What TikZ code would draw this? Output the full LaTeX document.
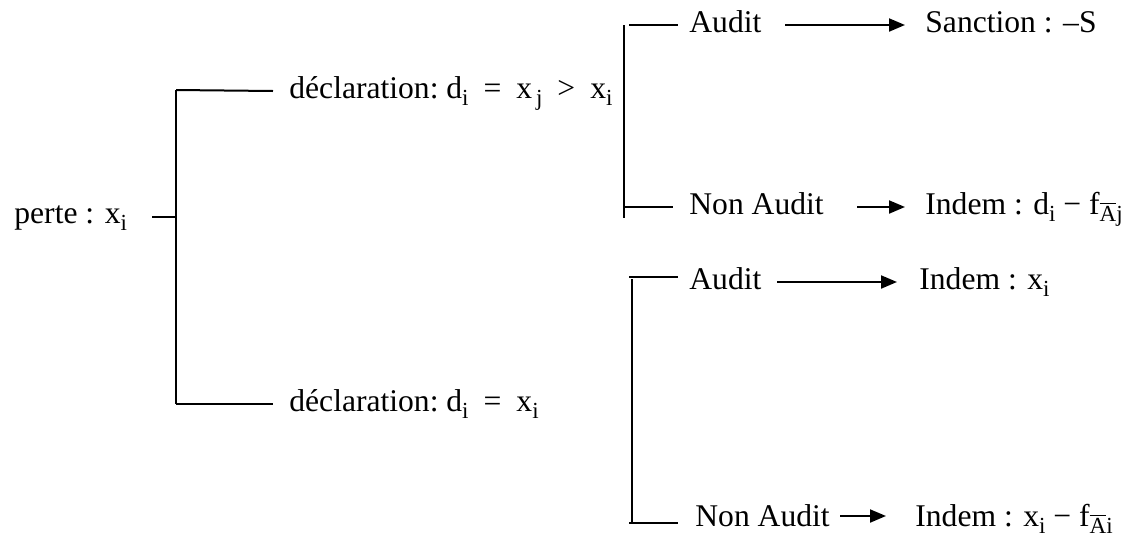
\documentclass[tikz,border=0pt]{standalone}
\usepackage{fontspec}
\setmainfont{Liberation Serif}
\usetikzlibrary{arrows.meta}
\newcommand{\gp}{\hspace{7.5pt}}
\newcommand{\sbs}[1]{\raisebox{-3.6pt}{\fontsize{11.5}{12}\selectfont #1}}
\newcommand{\ovl}[1]{$\overline{\hbox{#1}}$}
\begin{document}
\begin{tikzpicture}[x=0.5pt,y=-0.5pt,
  lbl/.style={anchor=base west,inner sep=0pt,font=\fontsize{15.8}{18}\selectfont},
  ln/.style={line width=1pt},
  arr/.style={line width=1pt,-{Triangle[length=8pt,width=6.5pt]}}]
\useasboundingbox (0,0) rectangle (1142,542);
% texts
\node[lbl] (perte) at (14,223) {perte : x\sbs{i}};
\node[lbl] (d1) at (289,98) {déclaration:\ d\sbs{i}\gp=\gp x\sbs{\,j}\gp>\gp x\sbs{i}};
\node[lbl] (d2) at (289,411) {déclaration:\ d\sbs{i}\gp=\gp x\sbs{i}};
\node[lbl] (a1) at (689,32) {Audit};
\node[lbl] (s1) at (925,32) {Sanction : –S};
\node[lbl] (n1) at (689,214) {Non Audit};
\node[lbl] (i1) at (925,214) {Indem : d\sbs{i} − f\sbs{\ovl{A}j}};
\node[lbl] (a2) at (689,289) {Audit};
\node[lbl] (i2) at (919,289) {Indem : x\sbs{i}};
\node[lbl] (n2) at (695,526) {Non Audit};
\node[lbl] (i3) at (915,526) {Indem : x\sbs{i} − f\sbs{\ovl{A}i}};
% bracket points
\coordinate (t0) at (152,217);
\coordinate (t1) at (176,217);
\coordinate (L1) at (176,90);
\coordinate (L2) at (176,404);
\coordinate (L1e) at (273,91);
\coordinate (L2e) at (273,404);
\coordinate (B1t) at (624,25);
\coordinate (B1b) at (624,218);
\coordinate (B1a) at (629,25);
\coordinate (B1ae) at (678,25);
\coordinate (B1n) at (624,207);
\coordinate (B1ne) at (673,207);
\coordinate (B2t) at (632,279);
\coordinate (B2b) at (632,522);
\coordinate (B2a) at (629,277);
\coordinate (B2ae) at (678,277);
\coordinate (B2n) at (629,523);
\coordinate (B2ne) at (678,523);
% arrow ends
\coordinate (r1s) at (785,25);  \coordinate (r1e) at (905,25);
\coordinate (r2s) at (857,207); \coordinate (r2e) at (905,207);
\coordinate (r3s) at (777,282); \coordinate (r3e) at (897,282);
\coordinate (r4s) at (840,516); \coordinate (r4e) at (886,516);
% lines
\draw[ln] (t0) -- (t1);
\draw[ln] (L1) -- (L2);
\draw[ln] (L1) -- (L1e);
\draw[ln] (L2) -- (L2e);
\draw[ln] (B1t) -- (B1b);
\draw[ln] (B1a) -- (B1ae);
\draw[ln] (B1n) -- (B1ne);
\draw[ln] (B2t) -- (B2b);
\draw[ln] (B2a) -- (B2ae);
\draw[ln] (B2n) -- (B2ne);
\draw[arr] (r1s) -- (r1e);
\draw[arr] (r2s) -- (r2e);
\draw[arr] (r3s) -- (r3e);
\draw[arr] (r4s) -- (r4e);
\end{tikzpicture}
\end{document}
